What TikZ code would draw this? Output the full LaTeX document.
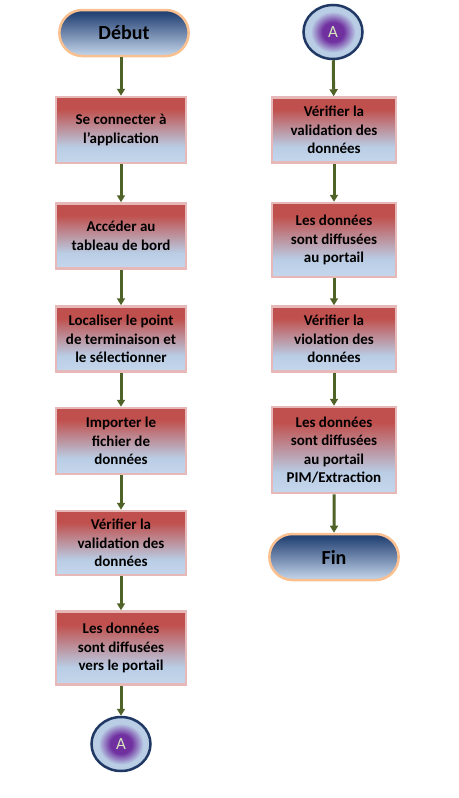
\documentclass[tikz,border=0pt]{standalone}
\usepackage{fontspec}
\setmainfont{Carlito}
\usetikzlibrary{shapes.misc, shapes.geometric, arrows.meta, positioning}
\definecolor{red1}{RGB}{192,80,77}
\definecolor{sky1}{RGB}{185,205,229}
\definecolor{sky2}{RGB}{198,215,236}
\definecolor{pink1}{RGB}{230,184,183}
\definecolor{navy1}{RGB}{36,66,116}
\definecolor{navy2}{RGB}{31,56,100}
\definecolor{orange1}{RGB}{250,192,144}
\definecolor{purple1}{RGB}{112,48,160}
\definecolor{lime1}{RGB}{215,228,189}
\definecolor{olive1}{RGB}{79,98,40}
\pgfdeclareradialshading{conshade}{\pgfpoint{0bp}{0bp}}{color(0bp)=(purple1); color(9bp)=(purple1); color(19bp)=(sky1); color(50bp)=(sky1)}
\pgfdeclareverticalshading{procshade}{100bp}{color(0bp)=(sky2); color(25bp)=(sky2); color(37bp)=(sky1); color(66bp)=(red1); color(100bp)=(red1)}
\pgfdeclareverticalshading{termshade}{100bp}{color(0bp)=(sky2); color(25bp)=(sky2); color(72bp)=(navy1); color(100bp)=(navy1)}
\newcommand{\boxfont}{\fontsize{15}{18.5}\selectfont\bfseries}

\begin{document}
\begin{tikzpicture}[x=1pt, y=1pt,
    process/.style={draw=pink1, line width=2.5pt, rectangle, shade, shading=procshade, minimum width=130pt, minimum height=65pt, align=center, inner sep=4pt, font=\boxfont},
    terminal/.style={draw=orange1, line width=2.5pt, rounded rectangle, shade, shading=termshade, minimum width=136pt, minimum height=46pt, font=\fontsize{20}{24}\selectfont\bfseries},
    connector/.style={draw=navy2, line width=2.5pt, ellipse, shade, shading=conshade, minimum width=59pt, minimum height=54pt, inner sep=0pt, text=lime1, font=\fontsize{17}{19}\selectfont},
    flow/.style={-{Triangle[length=7pt, width=8pt]}, line width=3pt, draw=olive1}
]
    \useasboundingbox (0,0) rectangle (458,-798);

    % colonne gauche
    \node[terminal, name=debut] at (124,-33) {Début};
    \foreach \n/\y/\h/\txt in {1/130/66/{Se connecter à\\l'application},
                               2/236/65/{Accéder au\\tableau de bord},
                               3/339/65/{Localiser le point\\de terminaison et\\le sélectionner},
                               4/441/66/{Importer le\\fichier de\\données},
                               5/543/64/{Vérifier la\\validation des\\données},
                               6/648/73/{Les données\\sont diffusées\\vers le portail}}
    {
        \node[process, minimum width=130pt, minimum height=\h pt, name=L\n] at (121,-\y) {\txt};
    };
    \node[connector, name=conA] at (121,-744) {A};

    % colonne droite
    \node[connector, name=conB] at (333,-32) {A};
    \foreach \n/\y/\h/\txt in {1/130/65/{Vérifier la\\validation des\\données},
                               2/240/74/{Les données\\sont diffusées\\au portail},
                               3/339/65/{Vérifier la\\violation des\\données},
                               4/450/86/{Les données\\sont diffusées\\au portail\\PIM/Extraction}}
    {
        \node[process, minimum width=124pt, minimum height=\h pt, name=R\n] at (334,-\y) {\txt};
    };
    \node[terminal, name=fin] at (334,-557) {Fin};

    % fleches
    \draw[flow] (L1.north |- debut.south) -- (L1);
    \foreach \a/\b in {1/2,2/3,3/4,4/5,5/6}
        \draw[flow] (L\a) -- (L\b);
    \draw[flow] (L6) -- (conA);
    \draw[flow] (conB) -- (R1);
    \foreach \a/\b in {1/2,2/3,3/4}
        \draw[flow] (R\a) -- (R\b);
    \draw[flow] (R4) -- (fin);
\end{tikzpicture}
\end{document}
